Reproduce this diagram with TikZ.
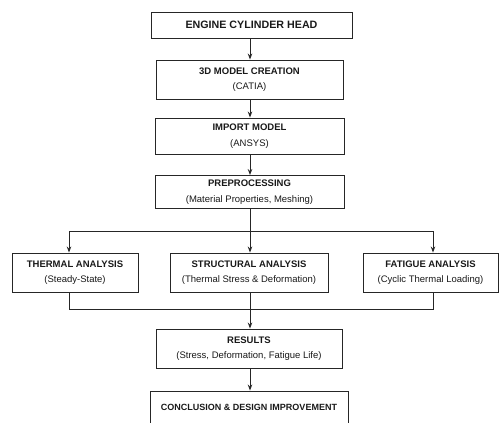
\documentclass[tikz,border=0pt]{standalone}
\usepackage{fontspec}
\setmainfont{Liberation Sans}
\usetikzlibrary{arrows.meta, positioning}

\begin{document}
\begin{tikzpicture}[x=1pt,y=-1pt,>={Stealth[length=6pt,width=4.5pt]},
    box/.style={draw=black!85, line width=0.9pt, align=center, inner sep=0pt,
                text=black!90, font=\fontsize{9.5}{15.5}\selectfont},
    link/.style={->, draw=black!85, line width=1pt},
    wire/.style={draw=black!85, line width=1pt}]
    \useasboundingbox (0,0) rectangle (501,423);
    \clip (0,0) rectangle (501,423);

    \node[box, minimum width=201pt, minimum height=26pt, font=\fontsize{10.7}{13}\selectfont] (head) at (251.5,25) {\textbf{ENGINE CYLINDER HEAD}};
    \node[box, minimum width=187pt, minimum height=39pt] (model) at (249.5,79.5) {\textbf{3D MODEL CREATION}\\(CATIA)};
    \node[box, minimum width=189pt, minimum height=36pt] (import) at (249.5,136) {\textbf{IMPORT MODEL}\\(ANSYS)};
    \node[box, minimum width=189pt, minimum height=33pt] (prep) at (249.5,192) {\textbf{PREPROCESSING}\\(Material Properties, Meshing)};

    \node[box, minimum width=126pt, minimum height=39pt] (thermal) at (75,272.5) {\textbf{THERMAL ANALYSIS}\\(Steady-State)};
    \node[box, minimum width=158pt, minimum height=39pt] (struct) at (249,272.5) {\textbf{STRUCTURAL ANALYSIS}\\(Thermal Stress \& Deformation)};
    \node[box, minimum width=135pt, minimum height=39pt] (fatigue) at (430.5,272.5) {\textbf{FATIGUE ANALYSIS}\\(Cyclic Thermal Loading)};

    \node[box, minimum width=186pt, minimum height=39pt] (results) at (249,348.5) {\textbf{RESULTS}\\(Stress, Deformation, Fatigue Life)};
    \node[box, minimum width=198pt, minimum height=32pt, font=\fontsize{9}{11}\selectfont] (concl) at (249,407) {\textbf{CONCLUSION \& DESIGN IMPROVEMENT}};

    \coordinate (split) at (250,231);
    \coordinate (merge) at (250,309);

    \draw[link] (head.south -| 250,0) -- (model.north -| 250,0);
    \draw[link] (model.south -| 250,0) -- (import.north -| 250,0);
    \draw[link] (import.south -| 250,0) -- (prep.north -| 250,0);

    % fan out to the three analyses
    \draw[wire] (prep.south -| split) -- (split);
    \draw[link] (split) -- (struct.north -| split);
    \draw[link] (split) -| ([xshift=-6pt]thermal.north);
    \draw[link] (split) -| ([xshift=2.5pt]fatigue.north);

    % gather back into the results
    \draw[wire] ([xshift=-6pt]thermal.south) |- (merge);
    \draw[wire] ([xshift=2.5pt]fatigue.south) |- (merge);
    \draw[link] (struct.south -| merge) -- (results.north -| merge);

    \draw[link] (results.south -| 250,0) -- (concl.north -| 250,0);
\end{tikzpicture}
\end{document}
